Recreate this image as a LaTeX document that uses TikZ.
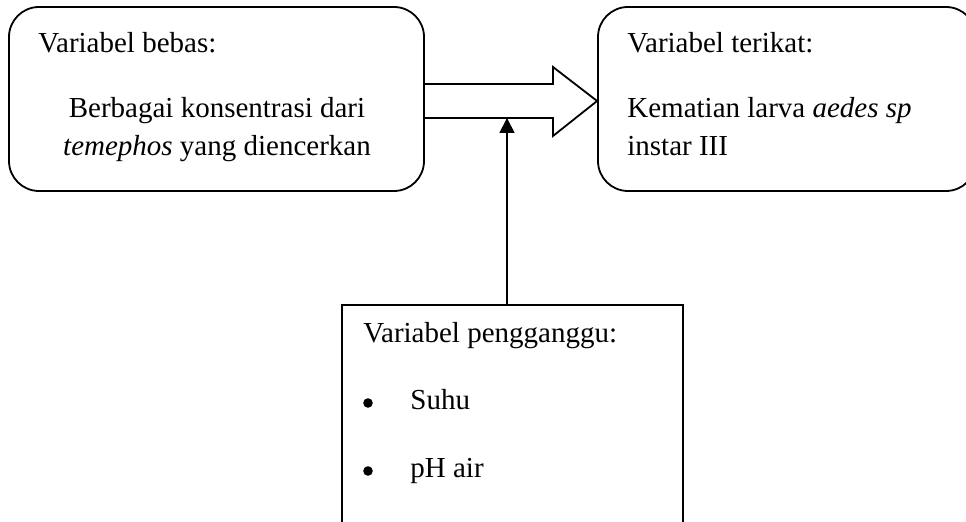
\documentclass[tikz,border=0pt]{standalone}
\usepackage{fontspec}
\setmainfont{Liberation Serif}
\usetikzlibrary{arrows.meta}

\begin{document}
\begin{tikzpicture}[x=0.5pt,y=-0.5pt,
  kotak/.style={draw, line width=0.9pt, inner sep=0pt},
  teks/.style={inner sep=0pt, font=\fontsize{14.5}{17}\selectfont},
  titik/.style={circle, fill, inner sep=0pt, minimum size=4.8pt}]
  \useasboundingbox (0,0) rectangle (966,522);
  % kotak
  \node[kotak, rounded corners=15pt, minimum width=207.5pt, minimum height=92pt] (bebas) at (216.5,99) {};
  \node[kotak, rounded corners=15pt, minimum width=189pt, minimum height=92pt] (terikat) at (787,99) {};
  \node[kotak, minimum width=170.5pt, minimum height=120pt] (pengganggu) at (512.5,425) {};
  % teks
  \node[teks, anchor=base west] (tBebas) at (38,53) {Variabel bebas:};
  \node[teks, anchor=base] (tBebasA) at (217,118) {Berbagai konsentrasi dari};
  \node[teks, anchor=base] (tBebasB) at (217,156) {\textit{temephos} yang diencerkan};
  \node[teks, anchor=base west] (tTerikat) at (627,53) {Variabel terikat:};
  \node[teks, anchor=base west] (tTerikatA) at (627,118) {Kematian larva \textit{aedes sp}};
  \node[teks, anchor=base west] (tTerikatB) at (627,156) {instar III};
  \node[teks, anchor=base west] (tGanggu) at (363,343) {Variabel pengganggu:};
  \node[titik] (dot1) at (368,403) {};
  \node[teks, anchor=base west] (suhu) at (410,410) {Suhu};
  \node[titik] (dot2) at (368,471) {};
  \node[teks, anchor=base west] (ph) at (410,478) {pH air};
  % panah
  \draw[line width=0.9pt, line join=miter] (bebas.east |- 0,84) -- (553,84) -- (553,67) -- (terikat.west |- 0,101)
    -- (553,136) -- (553,118) -- (bebas.east |- 0,118);
  \coordinate (masuk) at (507,118);
  \draw[line width=0.9pt, -{Triangle[length=7.5pt,width=7.5pt]}] (masuk |- pengganggu.north) -- (masuk);
\end{tikzpicture}
\end{document}
